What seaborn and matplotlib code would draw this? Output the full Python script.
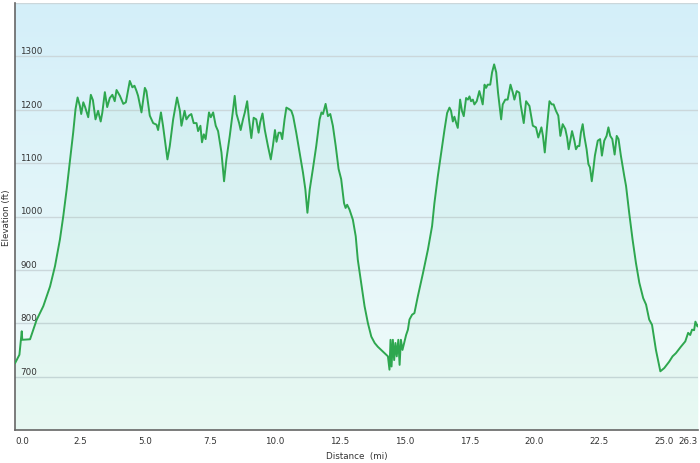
import numpy as np
import pandas as pd
import matplotlib
matplotlib.use("Agg")
import matplotlib.pyplot as plt
import seaborn as sns

# Course elevation profile (distance in mi, elevation in ft)
miles = [
    0.00, 0.17, 0.26, 0.28, 0.58, 0.83, 1.09, 1.35, 1.54, 1.73, 1.86, 1.99, 2.12, 2.24,
    2.33, 2.41, 2.50, 2.55, 2.63, 2.70, 2.82, 2.92, 3.00, 3.10, 3.20, 3.30, 3.36, 3.46,
    3.55, 3.65, 3.75, 3.84, 3.91, 4.04, 4.17, 4.27, 4.42, 4.52, 4.60, 4.68, 4.74, 4.87,
    5.00, 5.06, 5.19, 5.32, 5.45, 5.51, 5.62, 5.70, 5.87, 5.96, 6.09, 6.24, 6.35, 6.41,
    6.53, 6.60, 6.70, 6.79, 6.88, 6.99, 7.05, 7.14, 7.20, 7.27, 7.34, 7.47, 7.54, 7.63,
    7.73, 7.82, 7.95, 8.05, 8.14, 8.27, 8.40, 8.46, 8.53, 8.63, 8.69, 8.78, 8.85, 8.94,
    9.01, 9.10, 9.19, 9.29, 9.38, 9.44, 9.53, 9.62, 9.74, 9.85, 9.93, 10.01, 10.07, 10.15,
    10.23, 10.29, 10.38, 10.45, 10.56, 10.64, 10.71, 10.83, 10.96, 11.09, 11.18, 11.26,
    11.35, 11.47, 11.60, 11.73, 11.80, 11.86, 11.96, 12.05, 12.14, 12.24, 12.35, 12.46,
    12.56, 12.67, 12.73, 12.79, 12.88, 13.01, 13.12, 13.20, 13.33, 13.46, 13.59, 13.72,
    13.85, 13.97, 14.10, 14.23, 14.36, 14.42, 14.46, 14.50, 14.55, 14.60, 14.65, 14.70,
    14.76, 14.81, 14.86, 14.92, 15.00, 15.06, 15.13, 15.19, 15.29, 15.38, 15.51, 15.71,
    15.90, 16.06, 16.15, 16.28, 16.41, 16.54, 16.64, 16.73, 16.79, 16.86, 16.92, 16.99,
    17.05, 17.14, 17.21, 17.28, 17.37, 17.44, 17.50, 17.56, 17.63, 17.69, 17.78, 17.88,
    17.95, 18.01, 18.08, 18.14, 18.20, 18.30, 18.37, 18.45, 18.53, 18.60, 18.72, 18.78,
    18.88, 18.97, 19.08, 19.17, 19.23, 19.32, 19.42, 19.47, 19.59, 19.68, 19.81, 19.94,
    20.06, 20.15, 20.27, 20.33, 20.40, 20.49, 20.58, 20.67, 20.74, 20.83, 20.92, 21.00,
    21.09, 21.19, 21.26, 21.32, 21.38, 21.45, 21.54, 21.60, 21.67, 21.73, 21.79, 21.86,
    21.92, 22.01, 22.08, 22.14, 22.21, 22.27, 22.33, 22.44, 22.53, 22.60, 22.69, 22.78,
    22.85, 22.92, 23.00, 23.09, 23.17, 23.24, 23.33, 23.46, 23.53, 23.65, 23.78, 23.91,
    24.04, 24.19, 24.30, 24.42, 24.53, 24.68, 24.85, 25.00, 25.19, 25.32, 25.45, 25.64,
    25.81, 25.92, 26.00, 26.07, 26.15, 26.20, 26.28, 26.30,
]
elevation_ft = [
    725, 741, 785, 769, 770, 806, 832, 869, 907, 957, 1001, 1051, 1107, 1157,
    1201, 1223, 1207, 1192, 1214, 1205, 1186, 1228, 1218, 1182, 1198, 1178, 1194, 1233,
    1205, 1222, 1228, 1216, 1237, 1226, 1211, 1214, 1254, 1242, 1245, 1235, 1226, 1195,
    1241, 1235, 1189, 1175, 1172, 1162, 1195, 1170, 1107, 1132, 1182, 1223, 1198, 1170,
    1198, 1182, 1189, 1192, 1175, 1175, 1160, 1170, 1139, 1154, 1145, 1195, 1186, 1195,
    1170, 1160, 1120, 1066, 1107, 1151, 1201, 1226, 1192, 1175, 1162, 1182, 1195, 1216,
    1182, 1147, 1185, 1182, 1157, 1176, 1193, 1162, 1132, 1107, 1132, 1162, 1140, 1157,
    1157, 1145, 1182, 1204, 1201, 1198, 1188, 1157, 1120, 1082, 1051, 1007,
    1051, 1089, 1132, 1182, 1195, 1192, 1211, 1188, 1192, 1170, 1132, 1089,
    1070, 1025, 1016, 1022, 1013, 994, 963, 919, 876, 832, 800, 775,
    763, 756, 750, 744, 738, 713, 769, 719, 769, 731, 763, 738,
    769, 722, 769, 750, 766, 778, 788, 807, 816, 819, 850, 894,
    938, 982, 1025, 1075, 1119, 1163, 1194, 1204, 1198, 1178, 1187, 1175,
    1166, 1219, 1198, 1188, 1222, 1219, 1225, 1216, 1219, 1210, 1216, 1235,
    1222, 1210, 1247, 1241, 1247, 1247, 1270, 1285, 1270, 1232, 1182, 1210,
    1219, 1219, 1247, 1232, 1219, 1235, 1232, 1210, 1175, 1216, 1207, 1170,
    1167, 1148, 1167, 1151, 1120, 1170, 1216, 1210, 1210, 1198, 1189, 1151,
    1173, 1164, 1148, 1126, 1142, 1160, 1142, 1126, 1132, 1132, 1157, 1173,
    1151, 1126, 1098, 1092, 1066, 1089, 1114, 1142, 1145, 1114, 1142, 1151,
    1167, 1151, 1145, 1116, 1151, 1145, 1114, 1076, 1057, 1007, 957, 913,
    876, 847, 835, 807, 797, 750, 710, 716, 728, 738, 744, 756,
    766, 782, 778, 788, 787, 803, 794, 797,
]

x_ticks = [0.0, 2.5, 5.0, 7.5, 10.0, 12.5, 15.0, 17.5, 20.0, 22.5, 25.0, 26.3]
y_ticks = [700, 800, 900, 1000, 1100, 1200, 1300]

LINE_GREEN = "#2ea74f"
TEXT_GREY = "#333333"

sns.set_style("white")
plt.rcParams["font.family"] = ["DejaVu Sans"]

df = pd.DataFrame({"Distance": miles, "Elevation": elevation_ft})

fig = plt.figure(figsize=(7.0, 4.64), dpi=100)
ax = fig.add_axes([15 / 700, 1 - 431 / 464, 683 / 700, 427 / 464])

x_min, x_max = 0, 26.3
y_min, y_max = 600, 1400

# sky-blue to pale mint background gradient
top = np.array([212, 239, 249]) / 255
bottom = np.array([242, 252, 250]) / 255
t = np.linspace(0, 1, 256)[:, None]
grad = (top * (1 - t) + bottom * t)[:, None, :]
ax.imshow(grad, extent=[x_min, x_max, y_min, y_max], aspect="auto",
          origin="upper", zorder=0, interpolation="bicubic")

# horizontal grid lines
for yv in y_ticks + [y_max]:
    ax.axhline(yv, color="#cbd7db", lw=1.0, zorder=1)

ax.fill_between(df["Distance"], df["Elevation"], y_min,
                color="#6fd49a", alpha=0.07, lw=0, zorder=2)
sns.lineplot(data=df, x="Distance", y="Elevation", ax=ax,
             color=LINE_GREEN, lw=1.4, zorder=3, sort=False)

ax.set_xlim(x_min, x_max)
ax.set_ylim(y_min, y_max)

# y tick labels drawn inside the plot, just above each grid line
ax.set_yticks([])
for yv in y_ticks:
    ax.text(0.2, yv + 2, str(yv), fontsize=6.3, color=TEXT_GREY,
            ha="left", va="bottom", zorder=4)

ax.set_xticks(x_ticks)
labels = ax.set_xticklabels([f"{v:.1f}" for v in x_ticks], fontsize=6.3, color=TEXT_GREY)
labels[0].set_ha("left")
labels[-1].set_ha("right")
ax.tick_params(axis="x", direction="inout", length=5, width=1, color="#666666", pad=2)

for side in ["top", "right"]:
    ax.spines[side].set_visible(False)
for side in ["left", "bottom"]:
    ax.spines[side].set_color("#666666")
    ax.spines[side].set_linewidth(1.2)

ax.set_xlabel("Distance  (mi)", fontsize=6.3, color=TEXT_GREY, labelpad=4)
ax.set_ylabel("")
fig.text(7 / 700, 1 - 218 / 464, "Elevation (ft)", rotation=90, fontsize=6.3,
         color=TEXT_GREY, ha="center", va="center")

fig.savefig("out.png", dpi=100)
